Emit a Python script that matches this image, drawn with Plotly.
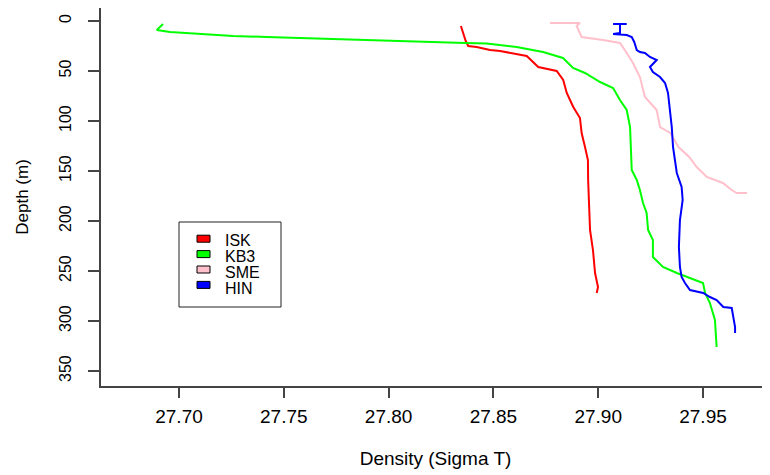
import plotly.graph_objects as go

# ---------------- data ----------------
isk_depth = [5, 12, 20, 25, 26, 29, 30, 35, 41, 46, 50, 59, 72, 86, 97, 112, 126, 139, 159, 179, 209, 229, 252, 266, 272]
isk_dens = [27.8345, 27.8355, 27.8368, 27.8380, 27.8420, 27.8484, 27.8532, 27.8659, 27.8690, 27.8714, 27.8802,
            27.8833, 27.8850, 27.8881, 27.8913, 27.8921, 27.8937, 27.8951, 27.8952, 27.8956, 27.8961, 27.8975,
            27.8985, 27.8999, 27.8993]

kb3_depth = [3, 9, 11, 13, 15, 16, 17, 20, 22, 22.5, 26, 31, 37, 47, 52, 61, 67, 79, 89, 106, 129, 149, 159, 169,
             182, 192, 209, 219, 236, 246, 252, 257, 262, 272, 282, 299, 326]
kb3_dens = [27.6924, 27.6894, 27.6957, 27.7100, 27.7258, 27.7418, 27.7562, 27.8054, 27.8365, 27.8468, 27.8611,
            27.8737, 27.8832, 27.8880, 27.8937, 27.9009, 27.9071, 27.9104, 27.9136, 27.9152, 27.9156, 27.9160,
            27.9184, 27.9199, 27.9214, 27.9231, 27.9238, 27.9261, 27.9261, 27.9309, 27.9375, 27.9438, 27.9500,
            27.9510, 27.9533, 27.9557, 27.9565]

sme_depth = [2, 2, 5, 16, 19, 22, 32, 42, 56, 76, 89, 106, 112, 126, 136, 146, 156, 162, 169, 172, 172]
sme_dens = [27.8770, 27.8913, 27.8897, 27.8921, 27.9023, 27.9104, 27.9136, 27.9166, 27.9199, 27.9223, 27.9279,
            27.9295, 27.9344, 27.9383, 27.9434, 27.9470, 27.9518, 27.9595, 27.9637, 27.9660, 27.9710]

hin_depth = [3, 3, 3, 12, 13, 14, 16, 21, 29, 31, 32, 36, 39, 46, 51, 56, 62, 72, 89, 106, 126, 152, 166, 179, 199,
             226, 246, 256, 262, 269, 272, 276, 279, 286, 287, 296, 306, 312]
hin_dens = [27.9071, 27.9136, 27.9104, 27.9104, 27.9071, 27.9136, 27.9160, 27.9172, 27.9184, 27.9199, 27.9223,
            27.9247, 27.9279, 27.9247, 27.9261, 27.9295, 27.9319, 27.9333, 27.9343, 27.9351, 27.9357, 27.9375,
            27.9398, 27.9403, 27.9390, 27.9385, 27.9390, 27.9398, 27.9414, 27.9438, 27.9501, 27.9533, 27.9565,
            27.9597, 27.9637, 27.9645, 27.9653, 27.9653]

station_names = ["ISK", "KB3", "SME", "HIN"]
station_colors = ["#FF0000", "#00FF00", "#FFC0CB", "#0000FF"]

x_ticks = [27.70, 27.75, 27.80, 27.85, 27.90, 27.95]
x_tick_labels = ["27.70", "27.75", "27.80", "27.85", "27.90", "27.95"]
y_ticks = [0, 50, 100, 150, 200, 250, 300, 350]
y_tick_labels = ["0", "50", "100", "150", "200", "250", "300", "350"]

# ---------------- figure ----------------
# the page body adds an 8px offset, so the figure is 8px smaller than the window
OFF = 8
W, H = 770 - OFF, 475 - OFF
ML, MR, MT, MB = 101 - OFF, 0, 0, H - (386 - OFF)
FONT = "Liberation Sans, Arial, sans-serif"
AXC = "#444444"

fig = go.Figure()
series = [(isk_dens, isk_depth), (kb3_dens, kb3_depth), (sme_dens, sme_depth), (hin_dens, hin_depth)]
for name, color, (xs, ys) in zip(station_names, station_colors, series):
    fig.add_trace(go.Scatter(x=xs, y=ys, mode="lines", name=name,
                             line=dict(color=color, width=2), showlegend=False))

# window pixel -> paper helpers (legend box drawn like R's legend())
pw, ph = W - ML - MR, H - MT - MB
def px(x):
    return (x - OFF - ML) / pw
def py(y):
    return (H - MB - (y - OFF)) / ph

shapes = [dict(type="rect", xref="paper", yref="paper",
               x0=px(179), x1=px(281), y0=py(307), y1=py(222),
               line=dict(color="#222222", width=1), fillcolor="white", layer="above")]
annotations = []
for i, (name, color) in enumerate(zip(station_names, station_colors)):
    cy = 238.7 + 15.4 * i
    shapes.append(dict(type="rect", xref="paper", yref="paper",
                       x0=px(197), x1=px(210), y0=py(cy + 3.5), y1=py(cy - 3.5),
                       line=dict(color="#000000", width=1), fillcolor=color, layer="above"))
    annotations.append(dict(x=px(223), y=py(240.8 + 16.0 * i), xref="paper", yref="paper",
                            text=name, showarrow=False, xanchor="left", yanchor="middle",
                            font=dict(family=FONT, size=16, color="#000000")))

fig.update_layout(
    width=W, height=H,
    margin=dict(l=ML, r=MR, t=MT, b=MB, pad=0, autoexpand=False),
    paper_bgcolor="white", plot_bgcolor="white",
    font=dict(family=FONT, size=16, color="#000000"),
    shapes=shapes, annotations=annotations,
    showlegend=False,
)
fig.update_xaxes(
    range=[27.70 - (179 - 101) / 2096, 27.70 + (770 - 179) / 2096],
    tickvals=x_ticks, ticktext=x_tick_labels, automargin=False,
    ticks="outside", ticklen=10, tickwidth=1.5, tickcolor=AXC, ticklabelstandoff=2,
    showline=True, linecolor=AXC, linewidth=1.5, mirror=True,
    showgrid=False, zeroline=False,
    tickfont=dict(family=FONT, size=19),
    title=dict(text="Density (Sigma T)", font=dict(family=FONT, size=19), standoff=26),
)
fig.update_yaxes(
    range=[365, -13],
    tickvals=y_ticks, ticktext=y_tick_labels, tickangle=-90, automargin=False,
    ticks="outside", ticklen=11, tickwidth=1.5, tickcolor=AXC, ticklabelstandoff=11,
    showline=True, linecolor=AXC, linewidth=1.5, mirror=False,
    showgrid=False, zeroline=False,
    tickfont=dict(family=FONT, size=16),
    title=dict(text="Depth (m)", font=dict(family=FONT, size=17), standoff=24),
)

fig.write_html("out.html")
